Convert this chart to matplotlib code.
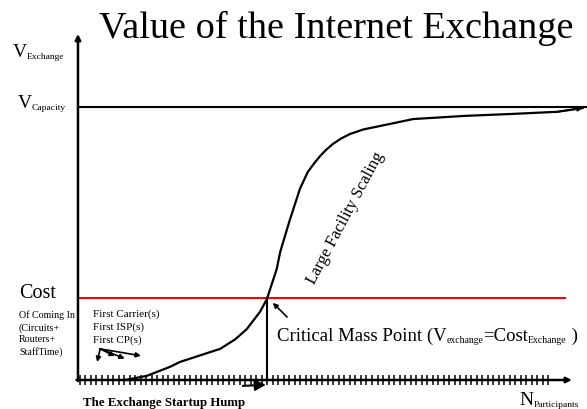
import numpy as np
import matplotlib.pyplot as plt

plt.rcParams['font.family'] = ['Liberation Serif', 'DejaVu Serif']

# Value curve (N participants vs exchange value)
n_participants = [9.6, 14.0, 18.7, 20.7, 25.0, 28.9, 32.0, 34.3, 37.0, 38.4, 40.4,
                  41.1, 43.0, 45.1, 46.7, 48.0, 49.2, 50.5, 51.8, 53.5, 55.3,
                  58.0, 61.4, 68.1, 78.3, 88.4, 97.4, 102.6]
value = [0.0, 1.2, 3.8, 5.2, 7.2, 9.0, 11.8, 14.7, 19.7, 23.4, 32.1,
         37.0, 46.0, 55.2, 60.1, 62.6, 64.7, 66.6, 68.2, 69.8, 71.1,
         72.4, 73.4, 75.4, 76.3, 76.9, 77.5, 78.6]

v_capacity = 79.0
cost = 23.7
critical_n = 38.4

first_labels = ["First Carrier(s)", "First ISP(s)", "First CP(s)"]
cost_labels = ["Of Coming In", "(Circuits+", "Routers+", "StaffTime)"]

fig = plt.figure(figsize=(5.87, 4.10), dpi=100)
ax = fig.add_axes([0, 0, 1, 1])
ax.set_xlim(-15.85, 103.46)
ax.set_ylim(-8.38, 110.1)
for s in ax.spines.values():
    s.set_visible(False)
ax.spines['bottom'].set_position(('data', 0))
ax.set_yticks([])
ax.set_xticks(np.arange(0.4, 96.5, 1.12))
ax.tick_params(axis='x', direction='inout', length=6.5, width=1.1,
               labelbottom=False)

# axes with arrows
arrow = dict(arrowstyle='-|>', lw=1.8, color='black', mutation_scale=8,
             shrinkA=0, shrinkB=0)
ax.annotate("", xy=(0, 100), xytext=(0, -0.3), arrowprops=arrow)
ax.annotate("", xy=(100.4, 0), xytext=(-0.3, 0), arrowprops=arrow)

# capacity and cost lines
ax.plot([0, 103.5], [v_capacity, v_capacity], color='black', lw=1.5)
ax.plot([0, 99], [cost, cost], color='#ff0000', lw=1.5)
ax.plot([critical_n, critical_n], [0, cost], color='black', lw=1.5)

# value curve
ax.plot(n_participants, value, color='black', lw=1.6)
ax.annotate("", xy=(n_participants[-1], value[-1]),
            xytext=(n_participants[-2], value[-2]),
            arrowprops=dict(arrowstyle='-|>', lw=1.2, color='black',
                            mutation_scale=7, shrinkA=0, shrinkB=0))

# title
ax.text(52.4, 99.1, "Value of the Internet Exchange", fontsize=27.5,
        ha='center', va='baseline')

# left side labels
def sub_label(x, y, big, small, big_size=14, small_size=6.8):
    t = ax.text(x, y, big, fontsize=big_size, ha='left', va='baseline')
    ax.annotate(small, xy=(1, 0), xycoords=t, fontsize=small_size,
                ha='left', va='bottom')
    return t

sub_label(-13.2, 93.6, "V", "Exchange")
sub_label(-12.2, 78.9, "V", "Capacity")
sub_label(89.8, -6.9, "N", "Participants")

ax.text(-12.0, 24.0, "Cost", fontsize=14.5, ha='left', va='baseline')
ax.text(-12.0, 20.4, "\n".join(cost_labels), fontsize=7.2, ha='left',
        va='top', linespacing=1.4)

ax.text(3.05, 20.8, "\n".join(first_labels), fontsize=8, ha='left',
        va='top', linespacing=1.5)

# small arrows under "First CP(s)"
small_arrow = dict(arrowstyle='-|>', lw=1.2, color='black',
                   mutation_scale=7, shrinkA=0, shrinkB=0)
for end in [(3.9, 5.2), (7.5, 6.9), (9.5, 6.2), (12.8, 7.0)]:
    ax.annotate("", xy=end, xytext=(4.5, 9.0), arrowprops=small_arrow)

# startup hump arrow
ax.annotate("", xy=(38.2, -1.4), xytext=(33.5, -1.7),
            arrowprops=dict(arrowstyle='-|>', lw=1.5, color='black',
                            mutation_scale=16, shrinkA=0, shrinkB=0))
ax.text(17.5, -7.2, "The Exchange Startup Hump", fontsize=9.3,
        fontweight='bold', ha='center', va='baseline')

# critical mass label
ax.annotate("", xy=(39.6, 22.3), xytext=(42.5, 18.2), arrowprops=small_arrow)
t = ax.text(40.4, 11.6, "Critical Mass Point (V", fontsize=13.5,
            ha='left', va='baseline')
for txt, size in [("exchange", 7), ("=Cost", 13.5), ("Exchange", 7), (" )", 13.5)]:
    t = ax.annotate(txt, xy=(1, 0), xycoords=t, fontsize=size,
                    ha='left', va='bottom')

ax.text(54.3, 47.1, "Large Facility Scaling", fontsize=12, rotation=62,
        ha='center', va='center', rotation_mode='anchor')

fig.savefig("out.png", dpi=100)
